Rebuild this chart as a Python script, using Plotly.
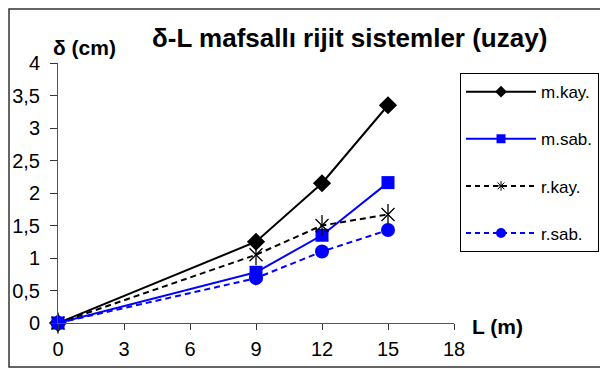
import plotly.graph_objects as go

L = [0, 9, 12, 15]
m_kay = [0, 1.25, 2.15, 3.35]
m_sab = [0, 0.78, 1.35, 2.16]
r_kay = [0, 1.05, 1.5, 1.67]
r_sab = [0, 0.69, 1.1, 1.43]
names = ["m.kay.", "m.sab.", "r.kay.", "r.sab."]
x_ticks = [0, 3, 6, 9, 12, 15, 18]
y_ticks = [0, 0.5, 1, 1.5, 2, 2.5, 3, 3.5, 4]

BLUE = "#0000FF"
BLACK = "#000000"
DASH = "6px,4px"

fig = go.Figure()

# main traces
fig.add_trace(go.Scatter(x=L, y=m_kay, mode="lines+markers", showlegend=False,
                         line=dict(color=BLACK, width=2),
                         marker=dict(symbol="diamond", size=14, color=BLACK), cliponaxis=False))
fig.add_trace(go.Scatter(x=L, y=m_sab, mode="lines+markers", showlegend=False,
                         line=dict(color=BLUE, width=2),
                         marker=dict(symbol="square", size=13, color=BLUE), cliponaxis=False))
fig.add_trace(go.Scatter(x=L, y=r_kay, mode="lines+markers", showlegend=False,
                         line=dict(color=BLACK, width=2, dash=DASH),
                         marker=dict(symbol="x-thin-open", size=13, color=BLACK,
                                     line=dict(color=BLACK, width=1.3)), cliponaxis=False))
fig.add_trace(go.Scatter(x=L, y=r_kay, mode="markers", showlegend=False,
                         marker=dict(symbol="line-ns-open", size=15, color=BLACK,
                                     line=dict(color=BLACK, width=1.3)), cliponaxis=False))
fig.add_trace(go.Scatter(x=L, y=r_sab, mode="lines+markers", showlegend=False,
                         line=dict(color=BLUE, width=2, dash=DASH),
                         marker=dict(symbol="circle", size=14, color=BLUE), cliponaxis=False))

# legend entries
leg = [
    (names[0], dict(color=BLACK, width=2), dict(symbol="diamond", size=9, color=BLACK)),
    (names[1], dict(color=BLUE, width=2), dict(symbol="square", size=9, color=BLUE)),
    (names[2], dict(color=BLACK, width=2, dash="5px,4px"),
     dict(symbol="asterisk-open", size=8, color=BLACK, line=dict(color=BLACK, width=1))),
    (names[3], dict(color=BLUE, width=2, dash="5px,4px"), dict(symbol="circle", size=10, color=BLUE)),
]
for i, (n, ln, mk) in enumerate(leg):
    fig.add_trace(go.Scatter(x=[None], y=[None], mode="lines+markers", name=n,
                             line=ln, marker=mk, legendgroup=str(i)))

fig.update_layout(
    width=600, height=361,
    margin=dict(l=50, r=154, t=55, b=46, autoexpand=False),
    paper_bgcolor="white", plot_bgcolor="white",
    separators=", ",
    font=dict(family="Liberation Sans, Arial, sans-serif", color="black"),
    xaxis=dict(range=[0, 18], tickvals=x_ticks, showgrid=False, zeroline=False,
               showline=True, linecolor="#555", linewidth=1,
               ticks="outside", ticklen=6, tickcolor="#333",
               tickfont=dict(size=20), ticklabelstandoff=2),
    yaxis=dict(range=[0, 4], tickvals=y_ticks, showgrid=False, zeroline=False,
               showline=True, linecolor="#555", linewidth=1,
               ticks="outside", ticklen=7, tickcolor="#333",
               tickfont=dict(size=20), ticklabelstandoff=6),
    xaxis2=dict(range=[0, 18], tickvals=x_ticks, overlaying="x", anchor="y",
                side="bottom", showgrid=False, zeroline=False, showline=False,
                ticks="inside", ticklen=6, tickcolor="#333", showticklabels=False),
    yaxis2=dict(range=[0, 4], tickvals=y_ticks, overlaying="y", anchor="x",
                side="left", showgrid=False, zeroline=False, showline=False,
                ticks="inside", ticklen=7, tickcolor="#333", showticklabels=False),
    legend=dict(x=1.0152, y=0.961, xanchor="left", yanchor="top",
                bordercolor="black", borderwidth=1, bgcolor="white",
                font=dict(size=17), traceorder="grouped", tracegroupgap=22,
                itemwidth=70),
    showlegend=True,
)

fig.add_annotation(text="<b>δ-L mafsallı rijit sistemler (uzay)</b>", xref="paper", yref="paper",
                   x=0.737, y=1.096, xanchor="center", yanchor="middle", showarrow=False,
                   font=dict(size=26))
fig.add_annotation(text="<b>δ (cm)</b>", xref="paper", yref="paper",
                   x=0.068, y=1.0615, xanchor="center", yanchor="middle", showarrow=False,
                   font=dict(size=21))
fig.add_annotation(text="<b>L (m)</b>", xref="paper", yref="paper",
                   x=1.04, y=-0.015, xanchor="left", yanchor="middle", showarrow=False,
                   font=dict(size=21))

fig.add_shape(type="rect", xref="paper", yref="paper",
              x0=-0.1237, x1=1.40, y0=-0.169, y1=1.2077,
              line=dict(color="#333", width=1.5), layer="above")

fig.write_html("out.html")
